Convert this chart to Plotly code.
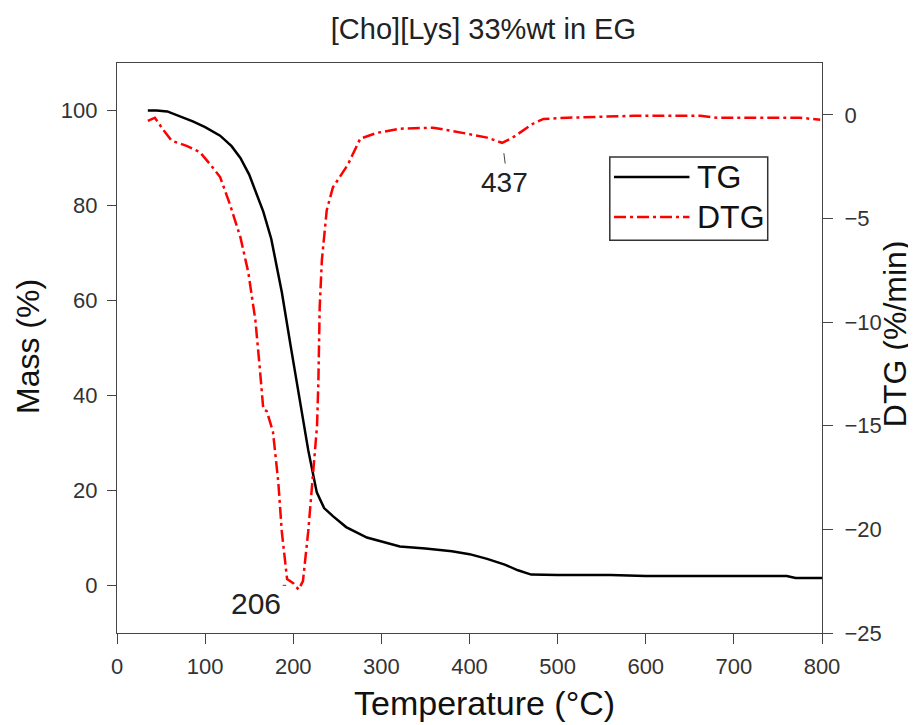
import plotly.graph_objects as go

# TG data
tg_temp = [35, 45, 57, 70, 86, 100, 117, 130, 140, 150, 160, 166, 175, 187, 197, 207.7, 217, 226.7,
           235, 245, 260, 283.6, 321, 350, 380, 400, 420, 440, 455, 470, 500, 560, 600, 700, 760, 770, 800]
tg_mass = [100, 100, 99.8, 98.9, 97.7, 96.5, 94.7, 92.5, 90, 86.5, 81.5, 78.7, 73, 61.8, 50.5, 39.2, 28.5, 19.6,
           16.3, 14.6, 12.3, 10.1, 8.2, 7.8, 7.2, 6.6, 5.6, 4.4, 3.2, 2.3, 2.2, 2.2, 2.0, 2.0, 2.0, 1.6, 1.6]

# DTG data
dtg_temp = [35, 43, 52, 62, 79, 94, 106, 117, 128, 140, 149, 155, 157, 162, 166, 170, 177, 183, 187, 193,
            200, 206, 211, 217, 222, 227, 228.5, 230, 232.5, 238, 245, 253, 262, 276, 295, 321, 359, 397,
            420, 437, 449, 472, 484, 511, 586, 662, 681, 775, 798]
dtg_val = [-0.29, -0.14, -0.7, -1.25, -1.5, -1.8, -2.4, -3.0, -4.3, -5.9, -7.6, -9.3, -9.9, -12.2, -14.2,
           -14.3, -15.3, -17.7, -20.1, -22.4, -22.6, -22.9, -22.5, -20.1, -17.7, -15.0, -12.9, -9.3, -7.0,
           -4.6, -3.5, -3.0, -2.4, -1.15, -0.87, -0.67, -0.62, -0.91, -1.1, -1.35, -1.1, -0.43, -0.2,
           -0.14, -0.05, -0.05, -0.14, -0.14, -0.24]

x_ticks = [0, 100, 200, 300, 400, 500, 600, 700, 800]
mass_ticks = [0, 20, 40, 60, 80, 100]
dtg_ticks = [-25, -20, -15, -10, -5, 0]
series_names = ["TG", "DTG"]

FONT = "Liberation Sans, Arial, sans-serif"
TG_LINE = dict(color="black", width=2.5)
DTG_LINE = dict(color="#ff0000", width=2.5, dash="12px,4px,3px,4px")

fig = go.Figure()
fig.add_trace(go.Scatter(x=tg_temp, y=tg_mass, mode="lines", name=series_names[0],
                         line=TG_LINE, yaxis="y", showlegend=False))
fig.add_trace(go.Scatter(x=dtg_temp, y=dtg_val, mode="lines", name=series_names[1],
                         line=DTG_LINE, yaxis="y2", showlegend=False))

axis_common = dict(showgrid=False, zeroline=False, showline=True, linecolor="#444444", linewidth=1.2,
                   ticks="outside", tickcolor="#444444", automargin=False,
                   tickfont=dict(family=FONT, size=22, color="#333333"))

fig.update_layout(
    width=916, height=725,
    margin=dict(l=109, r=102, t=55, b=100),
    paper_bgcolor="white", plot_bgcolor="white",
    title=dict(text="[Cho][Lys] 33%wt in EG", x=0.519, xanchor="center", y=0.971, yanchor="middle",
               font=dict(family=FONT, size=29, color="#222222")),
    xaxis=dict(range=[0, 800], tickvals=x_ticks, mirror=True, ticklen=10, ticklabelstandoff=3,
               **axis_common),
    yaxis=dict(range=[-10, 110], tickvals=mass_ticks, ticklen=9, ticklabelstandoff=5,
               **axis_common),
    yaxis2=dict(range=[-25, 2.5], tickvals=dtg_ticks, overlaying="y", side="right",
                ticklen=10, ticklabelstandoff=7, **axis_common),
    showlegend=False,
)

# axis titles
fig.add_annotation(x=0.5206, y=-0.1228, xref="paper", yref="paper", text="Temperature (°C)",
                   showarrow=False, xanchor="center", yanchor="middle",
                   font=dict(family=FONT, size=34, color="#111111"))
fig.add_annotation(x=-0.1262, y=0.5018, xref="paper", yref="paper", text="Mass (%)", textangle=-90,
                   showarrow=False, xanchor="center", yanchor="middle",
                   font=dict(family=FONT, size=32, color="#111111"))
fig.add_annotation(x=1.1035, y=0.526, xref="paper", yref="paper", text="DTG (%/min)", textangle=-90,
                   showarrow=False, xanchor="center", yanchor="middle",
                   font=dict(family=FONT, size=32, color="#111111"))

# annotations of peak temperatures
fig.add_annotation(x=158, y=-23.6, xref="x", yref="y2", text="206", showarrow=False,
                   font=dict(family=FONT, size=30, color="#222222"))
fig.add_annotation(x=440, y=-3.25, xref="x", yref="y2", text="437", showarrow=False,
                   font=dict(family=FONT, size=28, color="#222222"))
fig.add_shape(type="line", xref="x", yref="y2", x0=188, x1=192, y0=-22.7, y1=-22.7,
              line=dict(color="#444444", width=1))
fig.add_shape(type="line", xref="x", yref="y2", x0=439, x1=440.5, y0=-1.85, y1=-2.35,
              line=dict(color="#444444", width=1))

# legend box (drawn to match the reference's long legend lines)
fig.add_shape(type="rect", xref="paper", yref="paper", x0=0.699, x1=0.923, y0=0.689, y1=0.835,
              line=dict(color="#333333", width=1.5), fillcolor="white", layer="above")
for i, (name, ln) in enumerate(zip(series_names, [TG_LINE, DTG_LINE])):
    yy = 0.800 - i * 0.070
    fig.add_shape(type="line", xref="paper", yref="paper", x0=0.705, x1=0.812, y0=yy, y1=yy,
                  line=ln, layer="above")
    fig.add_annotation(x=0.820, y=yy, xref="paper", yref="paper", text=name, showarrow=False,
                       xanchor="left", yanchor="middle", font=dict(family=FONT, size=32, color="#111111"))

fig.write_html("out.html")
